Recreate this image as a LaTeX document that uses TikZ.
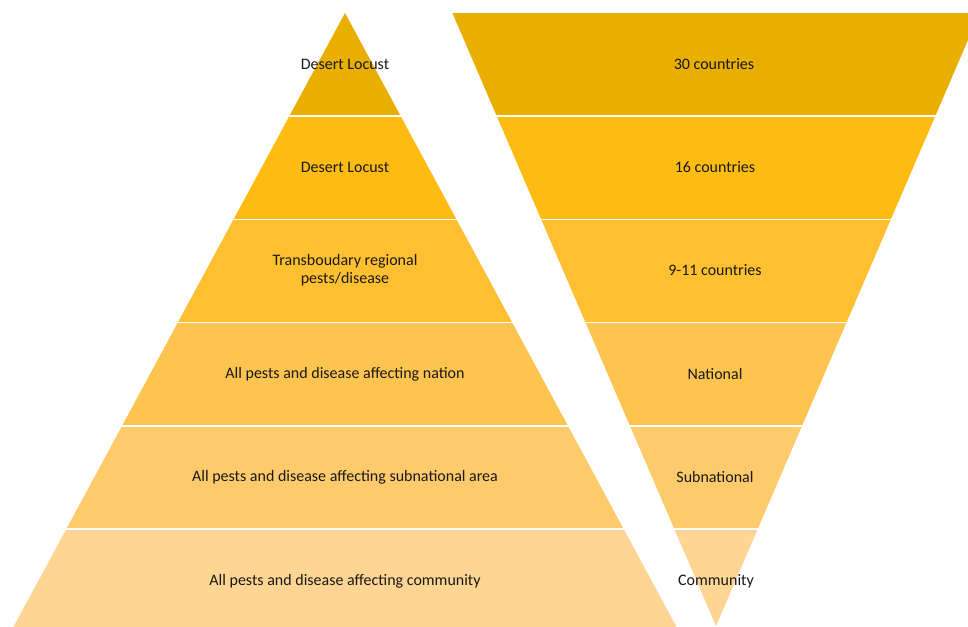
\documentclass[tikz,border=0pt]{standalone}
\usepackage{fontspec}
\setmainfont{Carlito}
\definecolor{tierA}{RGB}{232,174,0}
\definecolor{tierB}{RGB}{254,187,18}
\definecolor{tierC}{RGB}{254,192,48}
\definecolor{tierD}{RGB}{254,196,80}
\definecolor{tierE}{RGB}{254,202,108}
\definecolor{tierF}{RGB}{254,213,146}
\begin{document}
\begin{tikzpicture}[x=1pt,y=-1pt,
  lvltext/.style={font=\fontsize{16}{18}\selectfont, text=black!90, align=center}]
 \useasboundingbox (0,0) rectangle (968,626);
 \clip (0,0) rectangle (968,626);
 %
 % left pyramid, cut into six bands
 \foreach \c [count=\i from 0] in {tierA,tierB,tierC,tierD,tierE,tierF} {
  \begin{scope}
   \clip (345,13) -- (6.4,640) -- (683.6,640) -- cycle;
   \fill[\c] (0,13+103.2*\i) rectangle (700,116.2+103.2*\i);
  \end{scope}
 }
 %
 % right funnel, upside down
 \foreach \c [count=\i from 0] in {tierA,tierB,tierC,tierD,tierE,tierF} {
  \begin{scope}
   \clip (452.4,13) -- (979.6,13) -- (716,626) -- cycle;
   \fill[\c] (440,13+103.2*\i) rectangle (968,116.2+103.2*\i);
  \end{scope}
 }
 %
 \foreach \i in {1,...,5}
  \draw[white, line width=1.5pt] (0,13+103.2*\i) -- (968,13+103.2*\i);
 %
 \node[lvltext] (p1) at (345,64) {Desert Locust};
 \node[lvltext] (p2) at (345,167) {Desert Locust};
 \node[lvltext] (p3) at (345,270) {Transboudary regional\\pests/disease};
 \node[lvltext] (p4) at (345,374) {All pests and disease affecting nation};
 \node[lvltext] (p5) at (345,477) {All pests and disease affecting subnational area};
 \node[lvltext] (p6) at (345,581) {All pests and disease affecting community};
 %
 \node[lvltext] (f1) at (714,64) {30 countries};
 \node[lvltext] (f2) at (715,167) {16 countries};
 \node[lvltext] (f3) at (715,270) {9-11 countries};
 \node[lvltext] (f4) at (715,374) {National};
 \node[lvltext] (f5) at (715,477) {Subnational};
 \node[lvltext] (f6) at (716,581) {Community};
\end{tikzpicture}
\end{document}
